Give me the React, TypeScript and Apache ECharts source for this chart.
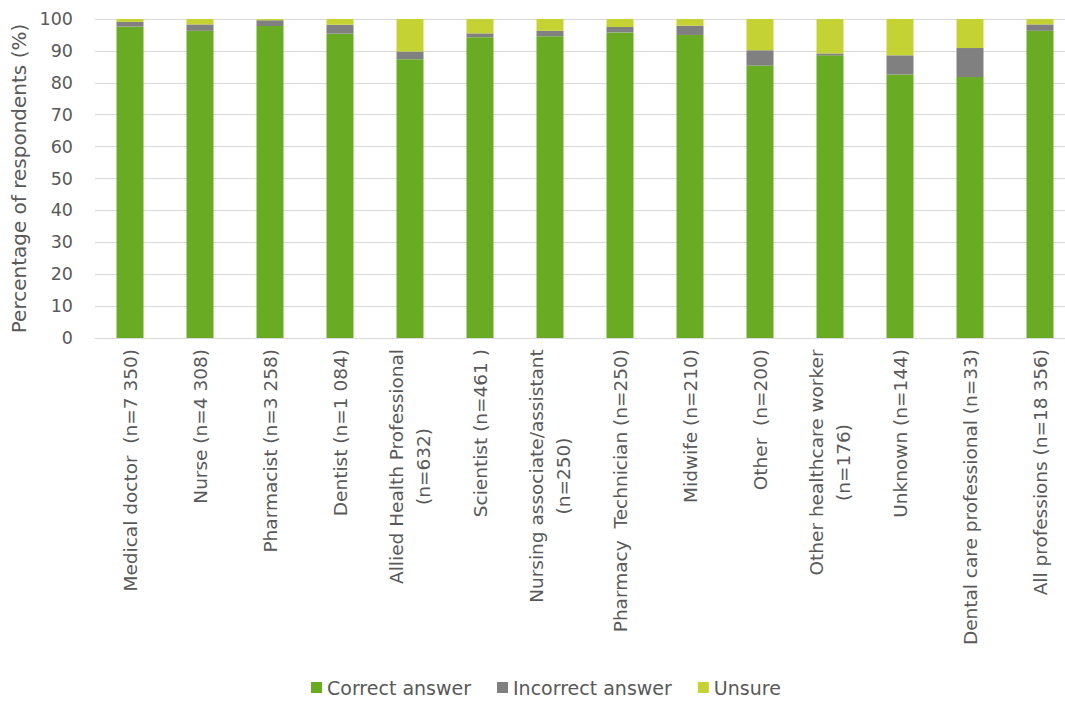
import React, { useEffect, useRef } from "react";
import * as echarts from "echarts";

const categories = [
  "Medical doctor  (n=7 350)",
  "Nurse (n=4 308)",
  "Pharmacist (n=3 258)",
  "Dentist (n=1 084)",
  "Allied Health Professional\n(n=632)",
  "Scientist (n=461 )",
  "Nursing associate/assistant\n(n=250)",
  "Pharmacy  Technician (n=250)",
  "Midwife (n=210)",
  "Other  (n=200)",
  "Other healthcare worker\n(n=176)",
  "Unknown (n=144)",
  "Dental care professional (n=33)",
  "All professions (n=18 356)",
];
const correct = [97.6, 96.3, 97.8, 95.4, 87.4, 94.3, 94.6, 95.8, 95.0, 85.4, 88.6, 82.6, 81.8, 96.3];
const incorrect = [1.5, 2.0, 1.8, 2.8, 2.4, 1.2, 1.7, 1.7, 2.9, 4.8, 0.6, 6.0, 9.1, 2.0];
const unsure = [0.9, 1.7, 0.4, 1.8, 10.2, 4.5, 3.7, 2.5, 2.1, 9.8, 10.8, 11.4, 9.1, 1.7];
const yTicks = [0, 10, 20, 30, 40, 50, 60, 70, 80, 90, 100];

const FONT = "DejaVu Sans";
const FS_CAT = 18.5;
const FS_Y = 17.5;
const FS_LEG = 19;
const FS_TITLE = 20;
const TXT = "#595959";

function measure(t: string): number {
  const c = document.createElement("canvas").getContext("2d");
  if (!c) return t.length * 10;
  c.font = `${FS_CAT}px "${FONT}"`;
  return c.measureText(t).width;
}

export default function App() {
  const ref = useRef<HTMLDivElement>(null);
  useEffect(() => {
    document.body.style.margin = "0";
    if (!ref.current) return;
    const chart = echarts.init(ref.current, null, { renderer: "svg" });
    chart.setOption({
      animation: false,
      backgroundColor: "#ffffff",
      grid: { left: 95, top: 19, width: 980, height: 319, containLabel: false, outerBoundsMode: "none" },
      legend: {
        bottom: 2,
        left: 306,
        itemWidth: 11,
        itemHeight: 11,
        itemGap: 26,
        icon: "rect",
        textStyle: { fontFamily: FONT, fontSize: FS_LEG, color: TXT },
        data: ["Correct answer", "Incorrect answer", "Unsure"],
      },
      xAxis: {
        type: "category",
        data: categories,
        axisLine: { show: true, lineStyle: { color: "#d9d9d9" } },
        axisTick: { show: false },
        axisLabel: {
          interval: 0,
          rotate: 90,
          margin: 11,
          color: TXT,
          fontFamily: FONT,
          fontSize: FS_CAT,
          formatter: (v: string) => {
            const lines = v.split("\n");
            if (lines.length === 1) return v;
            const w = Math.ceil(Math.max(...lines.map(measure)));
            return lines.map((l) => `{c${w}|${l}}`).join("\n");
          },
          rich: Object.fromEntries(
            categories
              .filter((c) => c.includes("\n"))
              .map((c) => {
                const w = Math.ceil(Math.max(...c.split("\n").map(measure)));
                return [
                  `c${w}`,
                  { width: w, align: "center", fontFamily: FONT, fontSize: FS_CAT, color: TXT, lineHeight: 27 },
                ];
              })
          ),
        },
      },
      yAxis: {
        type: "value",
        min: 0,
        max: 100,
        interval: 10,
        name: "Percentage of respondents (%)",
        nameLocation: "middle",
        nameGap: 63,
        nameTextStyle: { fontFamily: FONT, fontSize: FS_TITLE, color: TXT },
        axisLine: { show: false },
        axisTick: { show: false },
        axisLabel: {
          margin: 22,
          color: TXT,
          fontFamily: FONT,
          fontSize: FS_Y,
          formatter: (v: number) => (yTicks.includes(v) ? String(v) : ""),
        },
        splitLine: { lineStyle: { color: "#d9d9d9", width: 1 } },
      },
      series: [
        { name: "Correct answer", type: "bar", stack: "s", data: correct, barWidth: 27, itemStyle: { color: "#69AB23" } },
        { name: "Incorrect answer", type: "bar", stack: "s", data: incorrect, barWidth: 27, itemStyle: { color: "#808080" } },
        { name: "Unsure", type: "bar", stack: "s", data: unsure, barWidth: 27, itemStyle: { color: "#C4D333" } },
      ],
    });
    return () => chart.dispose();
  }, []);
  return <div ref={ref} style={{ width: 1065, height: 704 }} />;
}
